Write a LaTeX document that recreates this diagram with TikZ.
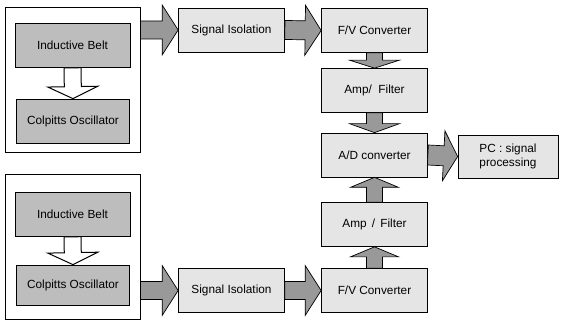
\documentclass[tikz,border=0pt]{standalone}
\usepackage{fontspec}
\setmainfont{Liberation Sans}
\usetikzlibrary{calc}

% block arrow: #1 style, #2 start, #3 end (tip), #4 shaft half width,
% #5 head half width, #6 head length
\newcommand{\blockarrow}[6]{%
  \coordinate (ba-h) at ($(#3)!#6!(#2)$);
  \draw[#1] ($(#2)!#4!90:(#3)$) -- ($(ba-h)!#4!90:(#3)$) -- ($(ba-h)!#5!90:(#3)$)
    -- (#3) -- ($(ba-h)!#5!-90:(#3)$) -- ($(ba-h)!#4!-90:(#3)$)
    -- ($(#2)!#4!-90:(#3)$) -- cycle;
}

\definecolor{sensorfill}{gray}{0.74}
\definecolor{stagefill}{gray}{0.90}
\definecolor{flowfill}{gray}{0.60}

\tikzset{
  group/.style={draw=black, line width=0.9pt, fill=white, inner sep=0pt,
    minimum width=135pt, minimum height=145pt},
  sensor/.style={draw=black, line width=0.7pt, fill=sensorfill, inner sep=1pt,
    minimum width=115pt, minimum height=44pt,
    font=\fontsize{11.8}{13.5}\selectfont},
  stage/.style={draw=black, line width=0.7pt, fill=stagefill, inner sep=1pt,
    minimum width=106pt, minimum height=44pt, align=center,
    font=\fontsize{11.8}{13.5}\selectfont},
  flow/.style={draw=black, line width=0.7pt, fill=flowfill, line join=miter},
  hollow/.style={draw=black, line width=1pt, fill=white, line join=miter}
}

\begin{document}
\begin{tikzpicture}[x=1pt, y=-1pt]
  \useasboundingbox[fill=white] (0,0) rectangle (561,320);

  % sensor groups
  \node[group] (outerA) at (72.5,79.5) {};
  \node[group] (outerB) at (72.5,247) {};

  \node[sensor] (indA) at (72.5,45.5) {Inductive Belt};
  \node[sensor, minimum width=113pt] (colA) at (73,121) {Colpitts Oscillator};
  \node[sensor] (indB) at (72.5,214.5) {Inductive Belt};
  \node[sensor, minimum width=113pt, minimum height=40pt] (colB) at (73,285) {Colpitts Oscillator};

  % processing chain
  \node[stage] (sigA) at (231.5,30) {Signal Isolation};
  \node[stage] (fvA) at (374.5,30.5) {F/V Converter};
  \node[stage] (ampA) at (374.5,90.5) {Amp/\ \ Filter};
  \node[stage] (ad) at (374.5,155) {A/D converter};
  \node[stage] (ampB) at (374.5,224.5) {Amp \,/\, Filter};
  \node[stage] (fvB) at (374.5,290.5) {F/V Converter};
  \node[stage] (sigB) at (231.5,290.5) {Signal Isolation};
  \node[stage, minimum width=100pt, minimum height=43pt] (pc) at (508,156.5) {PC : signal\\processing};

  % arrows inside the sensor groups
  \blockarrow{hollow}{indA.south}{colA.north}{8.5pt}{25pt}{12pt}
  \blockarrow{hollow}{indB.south}{colB.north}{8.5pt}{25pt}{12pt}

  % signal flow
  \coordinate (outA) at (outerA.east |- sigA.west);
  \coordinate (outB) at (outerB.east |- sigB.west);
  \blockarrow{flow}{outA}{sigA.west}{9pt}{25pt}{16pt}
  \blockarrow{flow}{sigA.east}{fvA.west}{9.5pt}{25pt}{16pt}
  \blockarrow{flow}{outB}{sigB.west}{9pt}{25pt}{16pt}
  \blockarrow{flow}{sigB.east}{fvB.west}{9pt}{25pt}{16pt}

  \blockarrow{flow}{fvA.south}{ampA.north}{8pt}{25pt}{8pt}
  \blockarrow{flow}{ampA.south}{ad.north}{8pt}{25pt}{9pt}
  \blockarrow{flow}{ampB.north}{ad.south}{8pt}{24pt}{10pt}
  \blockarrow{flow}{fvB.north}{ampB.south}{8pt}{24pt}{10pt}

  \blockarrow{flow}{ad.east}{pc.west}{10pt}{25pt}{14pt}
\end{tikzpicture}
\end{document}
